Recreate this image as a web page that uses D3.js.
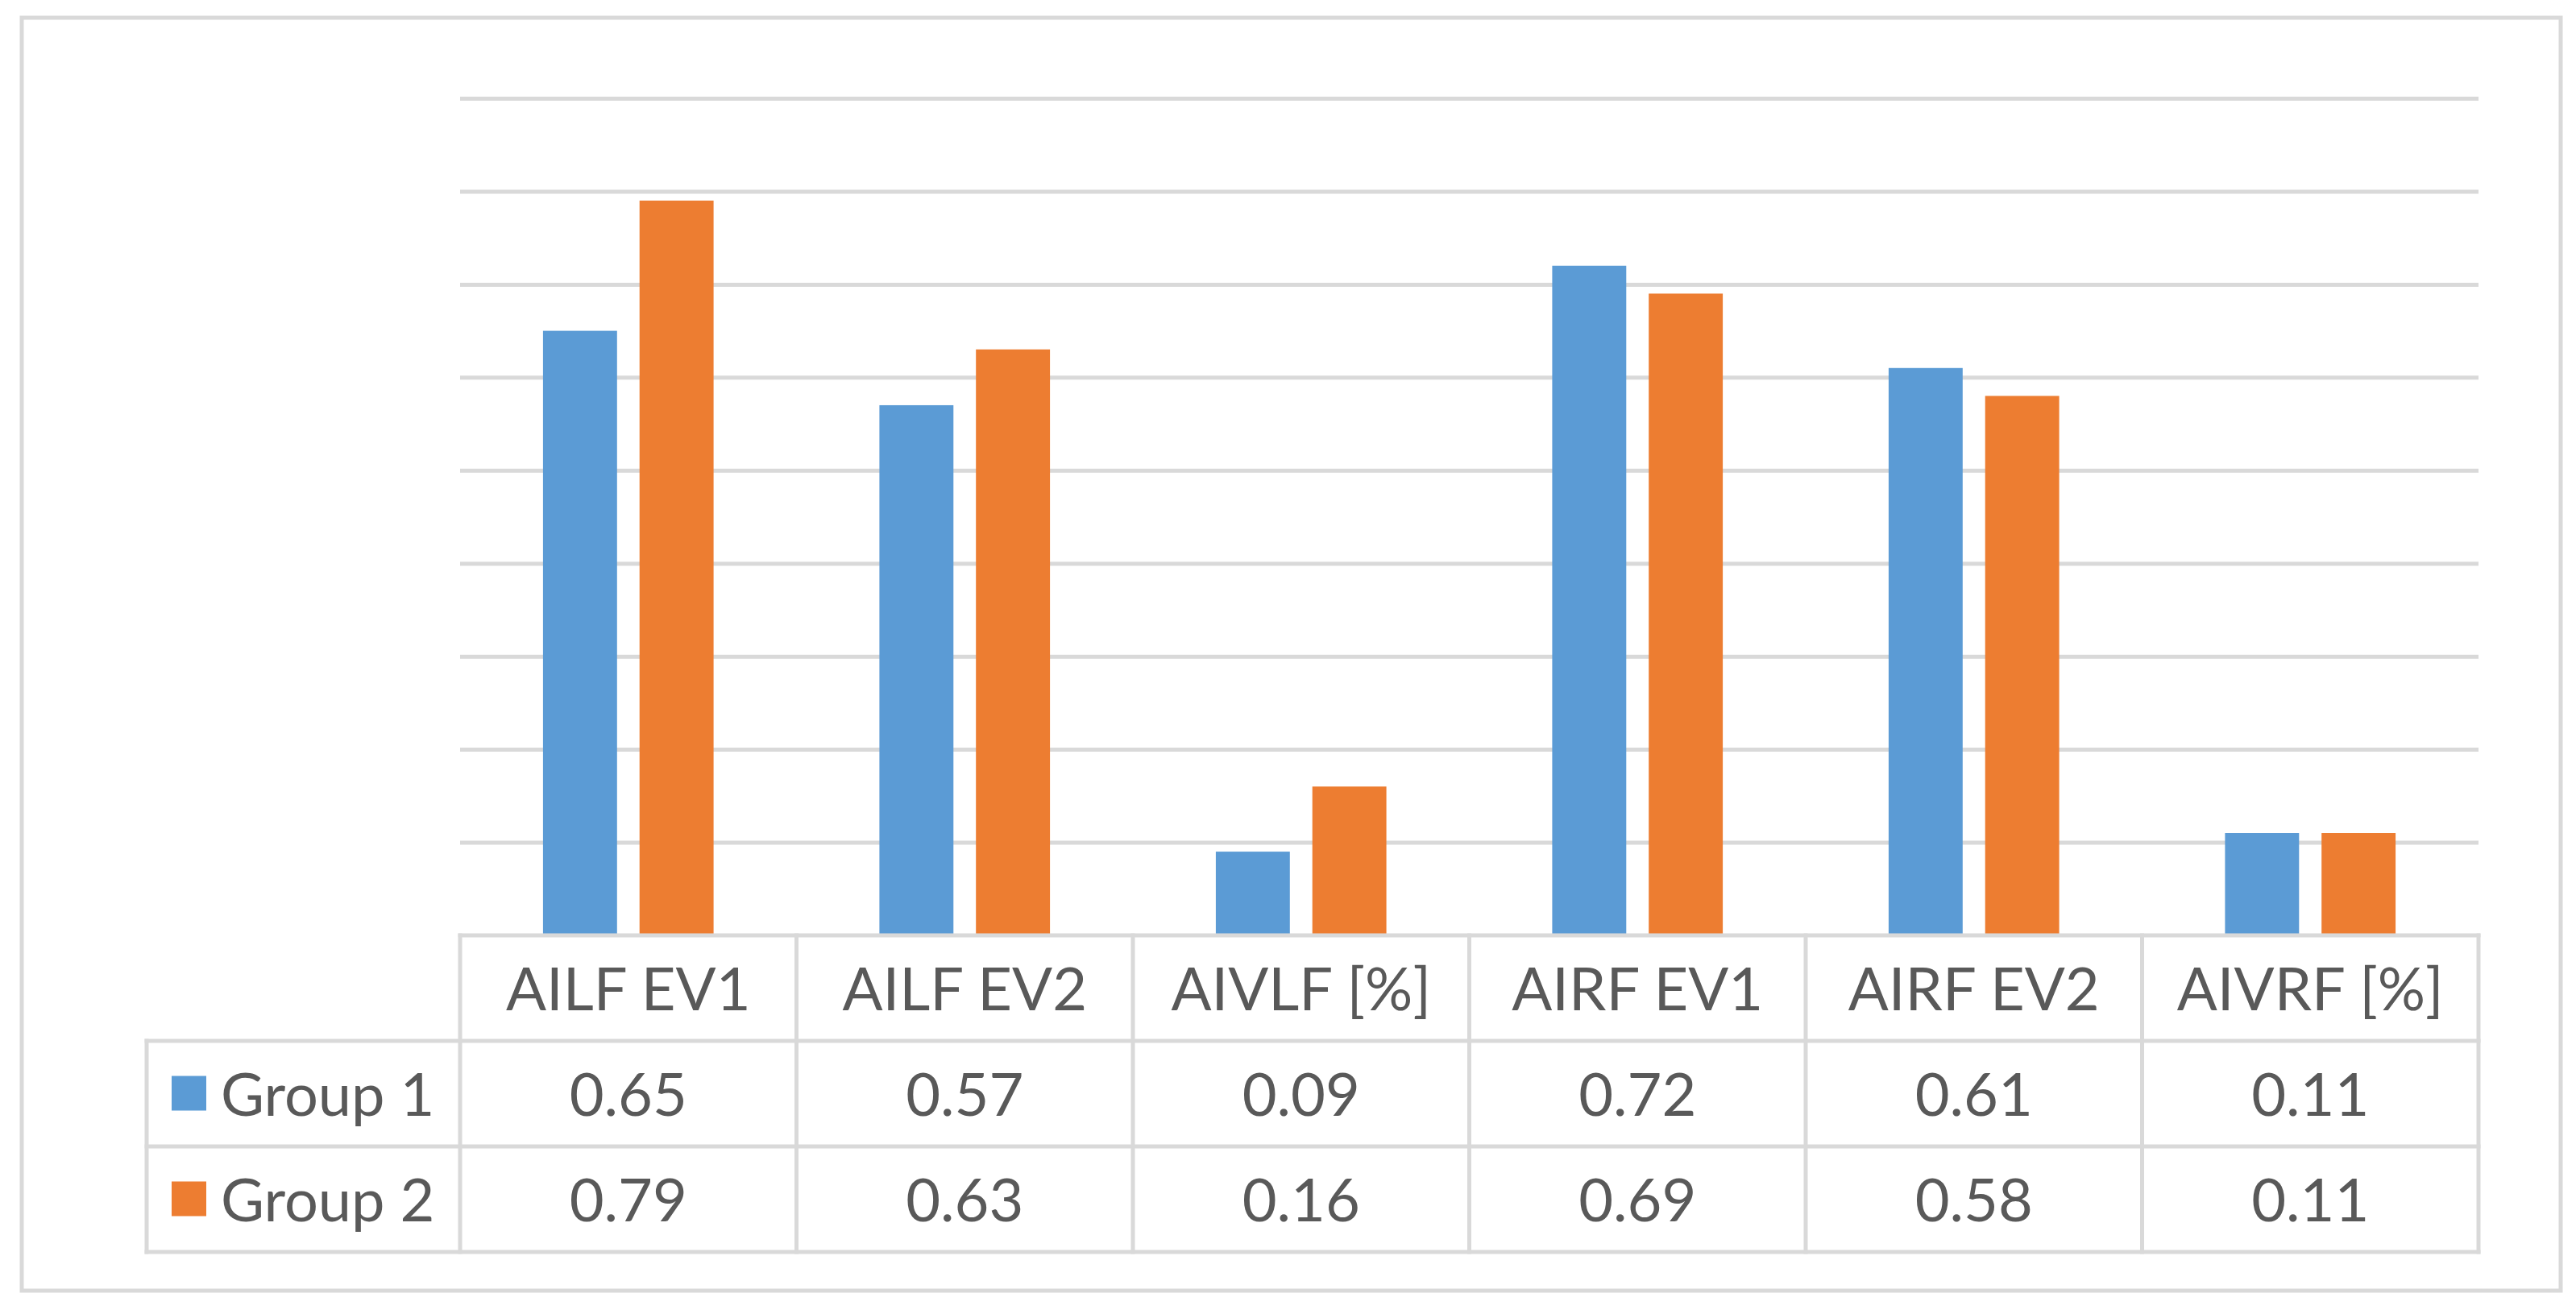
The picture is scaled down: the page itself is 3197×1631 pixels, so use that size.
<!DOCTYPE html>
<html>
<head>
<meta charset="utf-8">
<script src="https://cdn.jsdelivr.net/npm/d3@7"></script>
<style>
  body { margin: 0; background: #fff; }
  text { font-family: Lato, "Open Sans", sans-serif; fill: #595959; }
</style>
</head>
<body>
<svg id="svg" width="3197" height="1631"></svg>
<script>
// chart data
const categories = ["AILF EV1", "AILF EV2", "AIVLF [%]", "AIRF EV1", "AIRF EV2", "AIVRF [%]"];
const groups = ["Group 1", "Group 2"];
const group1 = [0.65, 0.57, 0.09, 0.72, 0.61, 0.11];
const group2 = [0.79, 0.63, 0.16, 0.69, 0.58, 0.11];
const gridTicks = [0.1, 0.2, 0.3, 0.4, 0.5, 0.6, 0.7, 0.8, 0.9];
const colors = ["#5b9bd5", "#ed7d31"];

// layout
const dims = { width: 3197, height: 1631 };
const plot = { left: 571, right: 3076, top: 122, bottom: 1161 };
const table = { left: 182, rowH: 131 };
const lineColor = "#d9d9d9";

let mySvg = d3.select('#svg');

// outer frame
mySvg.append("rect")
    .attr("x", 27).attr("y", 22)
    .attr("width", 3178 - 27).attr("height", 1602 - 22)
    .attr("fill", "#fff")
    .attr("stroke", lineColor)
    .attr("stroke-width", 5);

let xScale = d3.scaleBand()
    .domain(categories)
    .range([plot.left, plot.right]);
let xInner = d3.scaleBand()
    .domain(groups)
    .range([0, xScale.bandwidth()])
    .paddingInner(0.233)
    .paddingOuter(0.859);
let yScale = d3.scaleLinear()
    .domain([0, 0.9])
    .range([plot.bottom, plot.top]);

// gridlines
let grid = d3.axisLeft(yScale)
    .tickValues(gridTicks)
    .tickSize(-(plot.right - plot.left))
    .tickFormat("");
let gridG = mySvg.append("g")
    .attr("transform", `translate(${plot.left},0)`)
    .call(grid);
gridG.select(".domain").remove();
gridG.selectAll("line")
    .attr("stroke", lineColor)
    .attr("stroke-width", 5);

// bars
const series = [group1, group2];
let barG = mySvg.append("g");
series.forEach((vals, s) => {
    barG.selectAll(".bar" + s)
        .data(vals)
        .enter().append("rect")
        .attr("class", "bar" + s)
        .attr("x", (d, i) => xScale(categories[i]) + xInner(groups[s]))
        .attr("y", d => yScale(d))
        .attr("width", xInner.bandwidth())
        .attr("height", d => yScale(0) - yScale(d))
        .attr("fill", colors[s]);
});

// data table
const rowTops = [plot.bottom, plot.bottom + table.rowH, plot.bottom + 2 * table.rowH];
const tableBottom = plot.bottom + 3 * table.rowH;
let tbl = mySvg.append("g")
    .attr("stroke", lineColor)
    .attr("stroke-width", 5)
    .attr("stroke-linecap", "square");
// horizontal lines
tbl.append("line").attr("x1", plot.left).attr("x2", plot.right)
    .attr("y1", rowTops[0]).attr("y2", rowTops[0]);
[rowTops[1], rowTops[2], tableBottom].forEach(y => {
    tbl.append("line").attr("x1", table.left).attr("x2", plot.right)
        .attr("y1", y).attr("y2", y);
});
// vertical lines
tbl.append("line").attr("x1", table.left).attr("x2", table.left)
    .attr("y1", rowTops[1]).attr("y2", tableBottom);
let colEdges = categories.map(c => xScale(c)).concat([plot.right]);
colEdges.forEach(x => {
    tbl.append("line").attr("x1", x).attr("x2", x)
        .attr("y1", rowTops[0]).attr("y2", tableBottom);
});

const fontSize = 74;
const baseOff = 27;

// header texts
mySvg.selectAll(".head")
    .data(categories)
    .enter().append("text")
    .attr("class", "head")
    .attr("x", d => xScale(d) + xScale.bandwidth() / 2)
    .attr("y", rowTops[0] + table.rowH / 2 + baseOff)
    .attr("text-anchor", "middle")
    .attr("font-size", fontSize)
    .text(d => d);

// rows
series.forEach((vals, s) => {
    let cy = rowTops[s + 1] + table.rowH / 2;
    mySvg.append("rect")
        .attr("x", 213).attr("y", cy - 22)
        .attr("width", 43).attr("height", 43)
        .attr("fill", colors[s]);
    mySvg.append("text")
        .attr("x", 274)
        .attr("y", cy + baseOff)
        .attr("font-size", fontSize)
        .text(groups[s]);
    mySvg.selectAll(".val" + s)
        .data(vals)
        .enter().append("text")
        .attr("class", "val" + s)
        .attr("x", (d, i) => xScale(categories[i]) + xScale.bandwidth() / 2)
        .attr("y", cy + baseOff)
        .attr("text-anchor", "middle")
        .attr("font-size", fontSize)
        .text(d => d.toFixed(2));
});
</script>
</body>
</html>
